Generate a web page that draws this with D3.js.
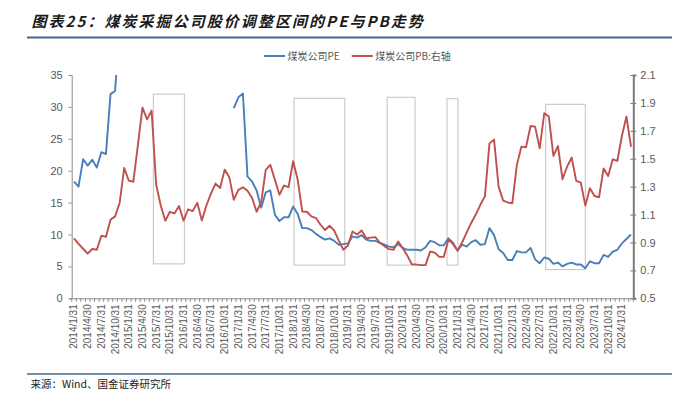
<!DOCTYPE html>
<html><head><meta charset="utf-8">
<script src="https://cdn.jsdelivr.net/npm/d3@7"></script>
<style>body{margin:0;background:#fff}svg{display:block}</style>
</head><body><svg id="c" width="688" height="399"></svg>
<script>
const categories = [
"2014/1/31","2014/2/28","2014/3/31","2014/4/30","2014/5/31","2014/6/30","2014/7/31","2014/8/31","2014/9/30","2014/10/31","2014/11/30","2014/12/31",
"2015/1/31","2015/2/28","2015/3/31","2015/4/30","2015/5/31","2015/6/30","2015/7/31","2015/8/31","2015/9/30","2015/10/31","2015/11/30","2015/12/31",
"2016/1/31","2016/2/29","2016/3/31","2016/4/30","2016/5/31","2016/6/30","2016/7/31","2016/8/31","2016/9/30","2016/10/31","2016/11/30","2016/12/31",
"2017/1/31","2017/2/28","2017/3/31","2017/4/30","2017/5/31","2017/6/30","2017/7/31","2017/8/31","2017/9/30","2017/10/31","2017/11/30","2017/12/31",
"2018/1/31","2018/2/28","2018/3/31","2018/4/30","2018/5/31","2018/6/30","2018/7/31","2018/8/31","2018/9/30","2018/10/31","2018/11/30","2018/12/31",
"2019/1/31","2019/2/28","2019/3/31","2019/4/30","2019/5/31","2019/6/30","2019/7/31","2019/8/31","2019/9/30","2019/10/31","2019/11/30","2019/12/31",
"2020/1/31","2020/2/29","2020/3/31","2020/4/30","2020/5/31","2020/6/30","2020/7/31","2020/8/31","2020/9/30","2020/10/31","2020/11/30","2020/12/31",
"2021/1/31","2021/2/28","2021/3/31","2021/4/30","2021/5/31","2021/6/30","2021/7/31","2021/8/31","2021/9/30","2021/10/31","2021/11/30","2021/12/31",
"2022/1/31","2022/2/28","2022/3/31","2022/4/30","2022/5/31","2022/6/30","2022/7/31","2022/8/31","2022/9/30","2022/10/31","2022/11/30","2022/12/31",
"2023/1/31","2023/2/28","2023/3/31","2023/4/30","2023/5/31","2023/6/30","2023/7/31","2023/8/31","2023/9/30","2023/10/31","2023/11/30","2023/12/31",
"2024/1/31","2024/2/29","2024/3/31"
];

const xTickLabels = [
"2014/1/31","2014/4/30","2014/7/31","2014/10/31","2015/1/31","2015/4/30","2015/7/31","2015/10/31",
"2016/1/31","2016/4/30","2016/7/31","2016/10/31","2017/1/31","2017/4/30","2017/7/31","2017/10/31",
"2018/1/31","2018/4/30","2018/7/31","2018/10/31","2019/1/31","2019/4/30","2019/7/31","2019/10/31",
"2020/1/31","2020/4/30","2020/7/31","2020/10/31","2021/1/31","2021/4/30","2021/7/31","2021/10/31",
"2022/1/31","2022/4/30","2022/7/31","2022/10/31","2023/1/31","2023/4/30","2023/7/31","2023/10/31","2024/1/31"
];

// 煤炭公司PE (left axis); null = not shown
const peValues = [
18.3,17.5,21.8,20.8,21.7,20.5,22.9,22.6,32.0,32.5,43.0,null,
null,null,null,null,null,null,null,null,null,null,null,null,
null,null,null,null,null,null,null,null,null,null,null,29.8,
31.5,32.1,19.1,18.3,16.9,14.2,16.6,16.9,13.1,12.1,12.7,12.7,
14.4,13.2,11.0,11.0,10.7,10.1,9.6,9.2,9.4,9.0,8.4,8.5,
8.6,9.7,9.5,9.9,9.2,9.0,9.0,8.7,8.4,8.1,8.0,8.5,
7.9,7.6,7.6,7.6,7.5,8.0,9.0,8.8,8.3,8.3,9.4,8.7,
7.5,8.4,8.1,8.8,9.1,8.4,8.5,11.0,9.9,7.7,7.1,6.0,
6.0,7.4,7.2,7.2,7.9,6.1,5.5,6.4,6.2,5.4,5.6,5.0,
5.4,5.6,5.3,5.3,4.7,5.8,5.5,5.5,6.8,6.5,7.3,7.6,
8.6,9.3,10.0
];

// 煤炭公司PB (right axis)
const pbValues = [
0.93,0.89,0.855,0.82,0.853,0.848,0.948,0.94,1.063,1.087,1.183,1.434,
1.343,1.335,1.60,1.867,1.782,1.845,1.315,1.165,1.055,1.12,1.108,1.162,
1.056,1.138,1.125,1.184,1.057,1.165,1.25,1.322,1.29,1.422,1.37,1.205,
1.277,1.295,1.271,1.219,1.12,1.188,1.42,1.456,1.349,1.242,1.308,1.296,
1.482,1.349,1.122,1.12,1.087,1.075,1.027,0.989,1.02,0.985,0.913,0.848,
0.878,0.979,0.957,0.986,0.93,0.935,0.938,0.898,0.874,0.852,0.848,0.907,
0.859,0.806,0.744,0.741,0.738,0.738,0.835,0.827,0.797,0.798,0.919,0.89,
0.841,0.90,0.97,1.04,1.10,1.17,1.23,1.61,1.637,1.30,1.20,1.187,
1.18,1.456,1.587,1.582,1.735,1.73,1.574,1.826,1.802,1.52,1.591,1.353,
1.444,1.509,1.341,1.329,1.164,1.288,1.233,1.224,1.431,1.376,1.496,1.484,
1.663,1.802,1.586
];

const leftTicks = [0,5,10,15,20,25,30,35];
const rightTicks = [0.5,0.7,0.9,1.1,1.3,1.5,1.7,1.9,2.1];

// adjustment periods (month index ranges) and their extent on the left axis
const boxFrom = [17.4,48.2,68.6,81.7,103.3];
const boxTo = [24.2,59.3,74.7,84.1,112.0];
const boxTop = [32.0,31.35,31.5,31.3,30.4];
const boxBottom = [5.4,5.2,5.2,5.2,4.5];

const titleText = "图表25：煤炭采掘公司股价调整区间的PE与PB走势";
const seriesNames = ["煤炭公司PE","煤炭公司PB:右轴"];
const sourceText = "来源：Wind、国金证券研究所";

const svg = d3.select("#c");
const P = {l:71.7, r:633.3, t:75, b:298.3};
const blue = "#4a7ebb", red = "#c0504d";
const axisFont = "'Liberation Sans', Arial, sans-serif";
const cjkFont = "'Noto Sans CJK SC', sans-serif";

svg.append("rect").attr("width",688).attr("height",399).attr("fill","#fff");

// title
svg.append("text").attr("x",31.5).attr("y",26.5)
  .attr("font-family",cjkFont).attr("font-size",15).attr("font-weight","bold")
  .attr("font-style","italic").attr("letter-spacing","2.05px").attr("fill","#1a1a1a")
  .text(titleText);
svg.append("line").attr("x1",27).attr("x2",672).attr("y1",37.5).attr("y2",37.5)
  .attr("stroke","#41698c").attr("stroke-width",2);

// scales
const x = d3.scaleBand().domain(categories).range([P.l,P.r]).padding(0);
const cx = d => x(d) + x.bandwidth()/2;
const xi = d3.scaleLinear().domain([0,categories.length-1]).range([cx(categories[0]), cx(categories[categories.length-1])]);
const yL = d3.scaleLinear().domain([0,35]).range([P.b,P.t]);
const yR = d3.scaleLinear().domain([0.5,2.1]).range([P.b,P.t]);

// boxes
const boxes = boxFrom.map((f,i)=>({f, t:boxTo[i], top:boxTop[i], bot:boxBottom[i]}));
svg.append("g").selectAll("rect").data(boxes).join("rect")
  .attr("x",d=>xi(d.f)).attr("width",d=>xi(d.t)-xi(d.f))
  .attr("y",d=>yL(d.top)).attr("height",d=>yL(d.bot)-yL(d.top))
  .attr("fill","none").attr("stroke","#cccccc").attr("stroke-width",1.2);

// left axis
const gL = svg.append("g").attr("transform",`translate(${P.l},0)`)
  .call(d3.axisLeft(yL).tickValues(leftTicks).tickSize(3).tickPadding(6).tickFormat(d3.format("d")));
gL.select(".domain").attr("stroke","#8c8c8c").attr("stroke-width",1);
gL.selectAll(".tick line").attr("stroke","#8c8c8c");
gL.selectAll("text").attr("font-family",axisFont).attr("font-size",11).attr("fill","#595959");

// right axis
const gR = svg.append("g").attr("transform",`translate(${P.r},0)`)
  .call(d3.axisRight(yR).tickValues(rightTicks).tickSize(3).tickPadding(4).tickFormat(d3.format(".1f")));
gR.select(".domain").attr("stroke","#7a7a7a").attr("stroke-width",2);
gR.selectAll(".tick line").attr("stroke","#7a7a7a").attr("x1",-3).attr("x2",3);
gR.selectAll("text").attr("font-family",axisFont).attr("font-size",11).attr("fill","#595959");

// x axis
const gX = svg.append("g").attr("transform",`translate(0,${P.b})`)
  .call(d3.axisBottom(x).tickValues(xTickLabels).tickSize(0).tickPadding(0));
gX.select(".domain").attr("stroke","#8c8c8c").attr("stroke-width",1);
gX.selectAll(".tick text")
  .attr("font-family",axisFont).attr("font-size",10).attr("fill","#595959")
  .attr("text-anchor","end").attr("y",0).attr("x",0).attr("dy","0.35em")
  .attr("transform","translate(0,6) rotate(-90)");
const bounds = categories.map(d=>x(d)).concat([P.r]);
svg.append("g").selectAll("line").data(bounds).join("line")
  .attr("x1",d=>d).attr("x2",d=>d).attr("y1",P.b).attr("y2",P.b+3.5)
  .attr("stroke","#8c8c8c").attr("stroke-width",1);

// clip
svg.append("clipPath").attr("id","plot").append("rect")
  .attr("x",P.l).attr("y",P.t).attr("width",P.r-P.l).attr("height",P.b-P.t);

const pe = categories.map((c,i)=>({c, v:peValues[i]}));
const pb = categories.map((c,i)=>({c, v:pbValues[i]}));
const lineL = d3.line().defined(d=>d.v!=null).x(d=>cx(d.c)).y(d=>yL(d.v));
const lineR = d3.line().defined(d=>d.v!=null).x(d=>cx(d.c)).y(d=>yR(d.v));
const gP = svg.append("g").attr("clip-path","url(#plot)");
gP.append("path").datum(pe).attr("d",lineL).attr("fill","none").attr("stroke",blue).attr("stroke-width",1.9).attr("stroke-linejoin","round");
gP.append("path").datum(pb).attr("d",lineR).attr("fill","none").attr("stroke",red).attr("stroke-width",1.9).attr("stroke-linejoin","round");

// legend
const leg = [{n:seriesNames[0],c:blue,x:264},{n:seriesNames[1],c:red,x:351.7}];
const gLeg = svg.append("g");
leg.forEach(d=>{
  gLeg.append("line").attr("x1",d.x).attr("x2",d.x+21).attr("y1",56).attr("y2",56).attr("stroke",d.c).attr("stroke-width",2);
  gLeg.append("text").attr("x",d.x+23.5).attr("y",59.5).attr("font-family",cjkFont).attr("font-size",10).attr("fill","#595959").text(d.n);
});

// footer
svg.append("line").attr("x1",27).attr("x2",672).attr("y1",374).attr("y2",374)
  .attr("stroke","#41698c").attr("stroke-width",1.5);
svg.append("text").attr("x",30.5).attr("y",387.5).attr("font-family",cjkFont).attr("font-size",10.5)
  .attr("fill","#222").text(sourceText);
</script></body></html>
